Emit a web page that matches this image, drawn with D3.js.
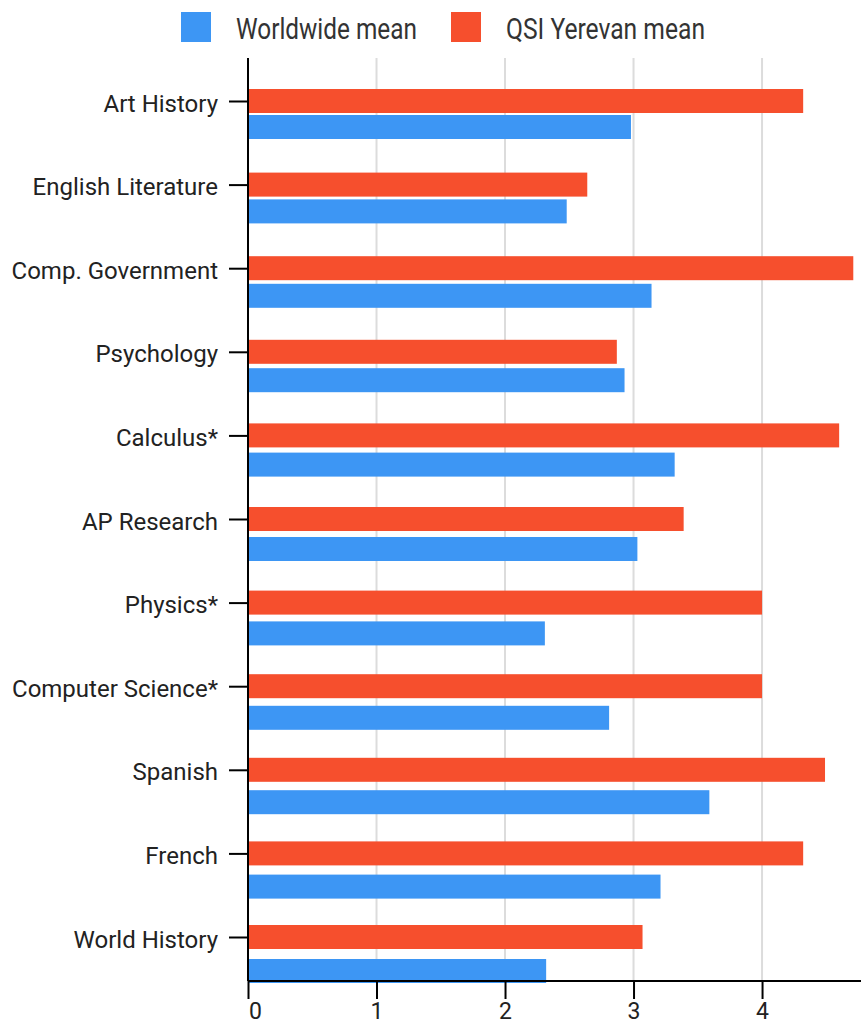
<!DOCTYPE html>
<html>
<head>
<meta charset="utf-8">
<script src="https://cdn.jsdelivr.net/npm/d3@7"></script>
<style>
  body { margin: 0; background: #fff; }
  svg { display: block; font-family: Roboto, "Noto Sans", sans-serif; }
  .grid line { stroke: #dcdcdc; stroke-width: 2; }
  .axis path, .axis line { stroke: #000; stroke-width: 2; }
  .axis text { fill: #222; font-size: 24px; font-family: Roboto, sans-serif; }
</style>
</head>
<body>
<svg id="chart" width="861" height="1022"></svg>
<script>
(function() {
  'use strict';

// subjects, top to bottom
var subjects = ["Art History", "English Literature", "Comp. Government", "Psychology",
                "Calculus*", "AP Research", "Physics*", "Computer Science*",
                "Spanish", "French", "World History"];

var worldwideMean = [2.98, 2.48, 3.14, 2.93, 3.32, 3.03, 2.31, 2.81, 3.59, 3.21, 2.32];
var yerevanMean   = [4.32, 2.64, 4.71, 2.87, 4.60, 3.39, 4.00, 4.00, 4.49, 4.32, 3.07];

var seriesNames = ["Worldwide mean", "QSI Yerevan mean"];
var seriesColors = ["#3d96f4", "#f64f2d"];
var xTicks = [0, 1, 2, 3, 4];

var svg = d3.select("#chart");

var left = 248, right = 861, top = 58, bottom = 981;
var barH = 24;

var x = d3.scaleLinear().domain([0, 4.77]).range([left, right]);

// red rows and blue rows sit on slightly different steps in the original
var yQsi   = d3.scalePoint().domain(subjects).range([101, 937]);
var yWorld = d3.scalePoint().domain(subjects).range([127, 971]);

// grid
svg.append("g").attr("class", "grid")
  .selectAll("line")
  .data(xTicks.filter(function(d) { return d > 0; }))
  .enter().append("line")
  .attr("x1", function(d) { return x(d); })
  .attr("x2", function(d) { return x(d); })
  .attr("y1", top)
  .attr("y2", bottom);

// bars
var rows = subjects.map(function(s, i) {
  return {subject: s, world: worldwideMean[i], qsi: yerevanMean[i]};
});

svg.append("g").selectAll("rect")
  .data(rows)
  .enter().append("rect")
  .attr("x", x(0))
  .attr("y", function(d) { return yQsi(d.subject) - barH / 2; })
  .attr("width", function(d) { return x(d.qsi) - x(0); })
  .attr("height", barH)
  .attr("fill", seriesColors[1]);

svg.append("g").selectAll("rect")
  .data(rows)
  .enter().append("rect")
  .attr("x", x(0))
  .attr("y", function(d) { return yWorld(d.subject) - barH / 2; })
  .attr("width", function(d) { return x(d.world) - x(0); })
  .attr("height", barH)
  .attr("fill", seriesColors[0]);

// x axis
var xAxis = svg.append("g").attr("class", "axis")
  .attr("transform", "translate(0," + bottom + ")")
  .call(d3.axisBottom(x).tickValues(xTicks).tickSize(18).tickSizeOuter(0).tickPadding(4)
        .tickFormat(d3.format("d")));
xAxis.select(".domain").attr("d", "M" + left + ",0H" + right);
xAxis.selectAll(".tick text")
  .style("font-size", "23px")
  .attr("dy", "0.71em")
  .attr("dx", function(d) { return d === 0 ? 7 : 0; });

// y axis
var yAxis = svg.append("g").attr("class", "axis")
  .attr("transform", "translate(" + left + ",0)")
  .call(d3.axisLeft(yQsi).tickSize(19).tickPadding(11));
yAxis.select(".domain").remove();
yAxis.selectAll(".tick text").attr("dy", "0.42em");
yAxis.append("line")
  .attr("x1", 0).attr("x2", 0)
  .attr("y1", top).attr("y2", bottom);

// legend
var legendX = [181, 451];
var legendW = [181, 199];
var legend = svg.append("g").selectAll("g")
  .data(seriesNames)
  .enter().append("g")
  .attr("transform", function(d, i) { return "translate(" + legendX[i] + ",12)"; });

legend.append("rect")
  .attr("width", 30).attr("height", 30)
  .attr("fill", function(d, i) { return seriesColors[i]; });

legend.append("text")
  .attr("x", 55).attr("y", 27)
  .attr("fill", "#333")
  .style("font-size", "29px")
  .attr("textLength", function(d, i) { return legendW[i]; })
  .attr("lengthAdjust", "spacingAndGlyphs")
  .text(function(d) { return d; });

})();
</script>
</body>
</html>
